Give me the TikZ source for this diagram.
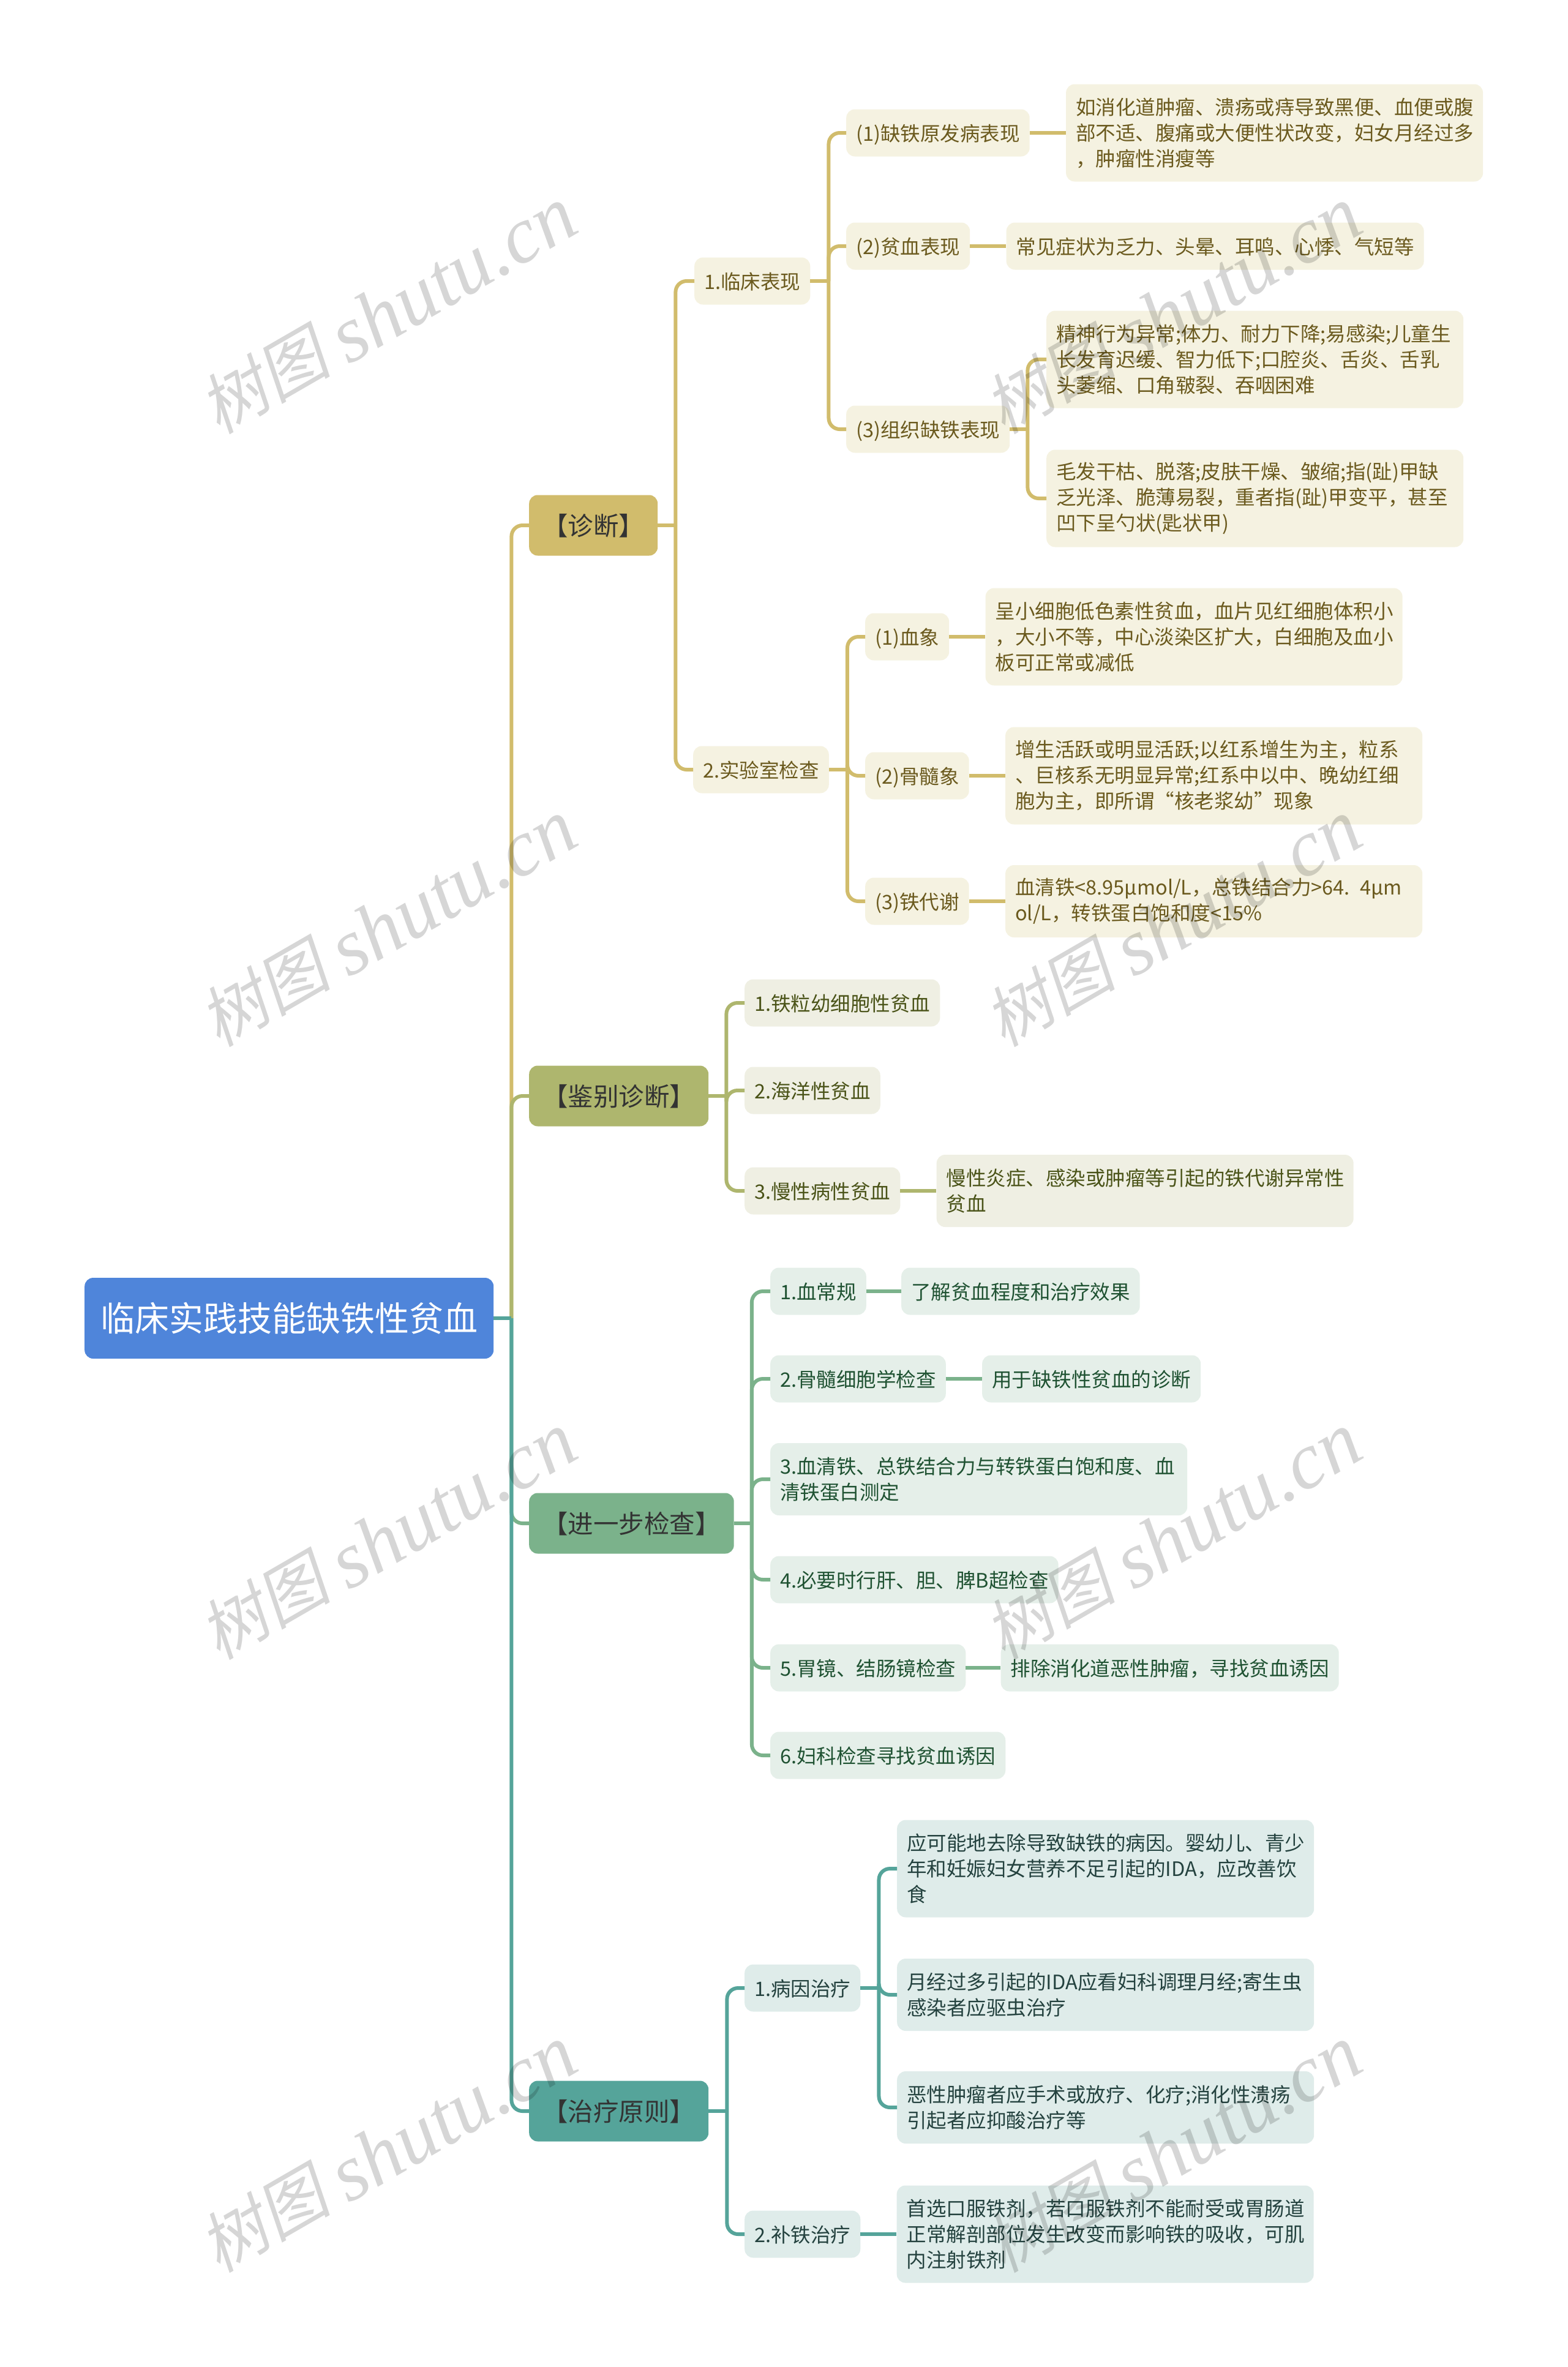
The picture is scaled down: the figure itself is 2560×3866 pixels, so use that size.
\documentclass[tikz,border=0pt]{standalone}
\usepackage{fontspec}
\setmainfont{Noto Sans CJK SC}
\newfontfamily\markcjk[FakeSlant=0.2]{Noto Sans CJK SC}
\newfontfamily\marklatin{Liberation Serif}
\usepackage{xcolor}
\usepackage{tikz}
\usetikzlibrary{positioning}

\definecolor{rootblue}{HTML}{4F85DA}
\definecolor{gold}{HTML}{D1BC6C}
\definecolor{goldfill}{HTML}{F5F2E1}
\definecolor{goldtext}{HTML}{6B5A1E}
\definecolor{olive}{HTML}{AEB66E}
\definecolor{olivefill}{HTML}{EFEFE3}
\definecolor{olivetext}{HTML}{4A5318}
\definecolor{leaf}{HTML}{7BB28B}
\definecolor{leaffill}{HTML}{E5EFE9}
\definecolor{leaftext}{HTML}{1F5232}
\definecolor{teal2}{HTML}{55A49A}
\definecolor{tealfill}{HTML}{DFECEA}
\definecolor{tealtext}{HTML}{24423F}

\begin{document}
\begin{tikzpicture}[
    x=1pt, y=-1pt,
    rootbox/.style={rectangle, fill=rootblue, text=white, rounded corners=14pt, minimum height=132pt, inner xsep=26pt, inner ysep=0pt, anchor=west, font=\fontsize{56}{64}\selectfont},
    topic/.style={rectangle, text=black!80, rounded corners=14pt, minimum height=99pt, inner xsep=22pt, inner ysep=0pt, anchor=west, text height=37pt, text depth=4pt, font=\fontsize{41.5}{50}\selectfont},
    item/.style={rectangle, rounded corners=14pt, minimum height=77pt, inner xsep=16pt, inner ysep=0pt, anchor=west, align=left, text height=30pt, text depth=3pt, font=\fontsize{32.5}{42}\selectfont},
    two/.style={minimum height=118pt, text width=649pt, text height=, text depth=},
    three/.style={minimum height=159pt, text width=649pt, text height=, text depth=},
    goldbox/.style={item, fill=goldfill, text=goldtext},
    olivebox/.style={item, fill=olivefill, text=olivetext},
    greenbox/.style={item, fill=leaffill, text=leaftext},
    tealbox/.style={item, fill=tealfill, text=tealtext},
    link/.style={line width=6pt},
    fillet/.style={link, rounded corners=18pt},
    watermark/.style={anchor=base, rotate=30, inner sep=0pt, text=black, text opacity=0.16}
]
\useasboundingbox (0,0) rectangle (2560,3866);

% Root and the four topics
\node[rootbox] (root) at (138,2153) {临床实践技能缺铁性贫血};
\node[topic, fill=gold] (diag) at (864,858) {【诊断】};
\node[topic, fill=olive] (diff) at (864,1790) {【鉴别诊断】};
\node[topic, fill=leaf] (exam) at (864,2488) {【进一步检查】};
\node[topic, fill=teal2] (cure) at (864,3448) {【治疗原则】};

% Diagnosis: clinical signs
\node[goldbox] (clin) at (1134,459) {1.临床表现};
\node[goldbox] (clinA) at (1382,217) {(1)缺铁原发病表现};
\node[goldbox] (clinB) at (1382,402) {(2)贫血表现};
\node[goldbox] (clinC) at (1382,701) {(3)组织缺铁表现};
\node[goldbox, three, right=59pt of clinA] (clinAtext) {如消化道肿瘤、溃疡或痔导致黑便、血便或腹\\部不适、腹痛或大便性状改变，妇女月经过多\\，肿瘤性消瘦等};
\node[goldbox, right=59pt of clinB] (clinBtext) {常见症状为乏力、头晕、耳鸣、心悸、气短等};
\node[goldbox, three] (clinCone) at (1709,587) {精神行为异常;体力、耐力下降;易感染;儿童生\\长发育迟缓、智力低下;口腔炎、舌炎、舌乳\\头萎缩、口角皲裂、吞咽困难};
\node[goldbox, three] (clinCtwo) at (1709,814) {毛发干枯、脱落;皮肤干燥、皱缩;指(趾)甲缺\\乏光泽、脆薄易裂，重者指(趾)甲变平，甚至\\凹下呈勺状(匙状甲)};

% Diagnosis: laboratory
\node[goldbox] (lab) at (1132,1257) {2.实验室检查};
\node[goldbox] (labA) at (1413,1040) {(1)血象};
\node[goldbox] (labB) at (1413,1267) {(2)骨髓象};
\node[goldbox] (labC) at (1413,1472) {(3)铁代谢};
\node[goldbox, three, right=59pt of labA] (labAtext) {呈小细胞低色素性贫血，血片见红细胞体积小\\，大小不等，中心淡染区扩大，白细胞及血小\\板可正常或减低};
\node[goldbox, three, right=59pt of labB] (labBtext) {增生活跃或明显活跃;以红系增生为主，粒系\\、巨核系无明显异常;红系中以中、晚幼红细\\胞为主，即所谓“核老浆幼”现象};
\node[goldbox, two, right=59pt of labC] (labCtext) {血清铁<8.95μmol/L，总铁结合力>64. 4μm\\ol/L，转铁蛋白饱和度<15\%};

% Differential diagnosis
\node[olivebox] (diffA) at (1216,1638) {1.铁粒幼细胞性贫血};
\node[olivebox] (diffB) at (1216,1781) {2.海洋性贫血};
\node[olivebox] (diffC) at (1216,1945) {3.慢性病性贫血};
\node[olivebox, two, right=59pt of diffC] (diffCtext) {慢性炎症、感染或肿瘤等引起的铁代谢异常性\\贫血};

% Further examination
\node[greenbox] (examA) at (1258,2109) {1.血常规};
\node[greenbox] (examB) at (1258,2252) {2.骨髓细胞学检查};
\node[greenbox, two] (examC) at (1258,2416) {3.血清铁、总铁结合力与转铁蛋白饱和度、血\\清铁蛋白测定};
\node[greenbox] (examD) at (1258,2580) {4.必要时行肝、胆、脾B超检查};
\node[greenbox] (examE) at (1258,2724) {5.胃镜、结肠镜检查};
\node[greenbox] (examF) at (1258,2867) {6.妇科检查寻找贫血诱因};
\node[greenbox, right=57pt of examA] (examAtext) {了解贫血程度和治疗效果};
\node[greenbox, right=59pt of examB] (examBtext) {用于缺铁性贫血的诊断};
\node[greenbox, right=57pt of examE] (examEtext) {排除消化道恶性肿瘤，寻找贫血诱因};

% Treatment
\node[tealbox] (cause) at (1216,3247) {1.病因治疗};
\node[tealbox] (iron) at (1216,3649) {2.补铁治疗};
\node[tealbox, three] (causeA) at (1465,3052) {应可能地去除导致缺铁的病因。婴幼儿、青少\\年和妊娠妇女营养不足引起的IDA，应改善饮\\食};
\node[tealbox, two] (causeB) at (1465,3258) {月经过多引起的IDA应看妇科调理月经;寄生虫\\感染者应驱虫治疗};
\node[tealbox, two] (causeC) at (1465,3442) {恶性肿瘤者应手术或放疗、化疗;消化性溃疡\\引起者应抑酸治疗等};
\node[tealbox, three, right=59pt of iron] (irontext) {首选口服铁剂，若口服铁剂不能耐受或胃肠道\\正常解剖部位发生改变而影响铁的吸收，可肌\\内注射铁剂};

% Links - gold
\coordinate (hub) at ([xshift=29pt]root.east);
\draw[fillet, gold] (hub) |- (diag.west);
\draw[link, gold] (diag.east) -- ++(29,0) coordinate (diagHub);
\foreach \kid in {clin,lab} \draw[fillet, gold] (diagHub) |- (\kid.west);
\draw[link, gold] (clin.east) -- ++(30,0) coordinate (clinHub);
\foreach \kid in {clinA,clinB,clinC} \draw[fillet, gold] (clinHub) |- (\kid.west);
\draw[link, gold] (clinA) -- (clinAtext);
\draw[link, gold] (clinB) -- (clinBtext);
\draw[link, gold] (clinC.east) -- ++(29,0) coordinate (clinCHub);
\foreach \kid in {clinCone,clinCtwo} \draw[fillet, gold] (clinCHub) |- (\kid.west);
\draw[link, gold] (lab.east) -- ++(30,0) coordinate (labHub);
\foreach \kid in {labA,labB,labC} \draw[fillet, gold] (labHub) |- (\kid.west);
\draw[link, gold] (labA) -- (labAtext);
\draw[link, gold] (labB) -- (labBtext);
\draw[link, gold] (labC) -- (labCtext);

% Links - olive
\draw[fillet, olive] (hub) |- (diff.west);
\draw[link, olive] (diff.east) -- ++(29,0) coordinate (diffHub);
\foreach \kid in {diffA,diffB,diffC} \draw[fillet, olive] (diffHub) |- (\kid.west);
\draw[link, olive] (diffC) -- (diffCtext);

% Links - green
\draw[fillet, leaf] (hub) |- (exam.west);
\draw[link, leaf] (exam.east) -- ++(29,0) coordinate (examHub);
\foreach \kid in {examA,examB,examC,examD,examE,examF} \draw[fillet, leaf] (examHub) |- (\kid.west);
\draw[link, leaf] (examA) -- (examAtext);
\draw[link, leaf] (examB) -- (examBtext);
\draw[link, leaf] (examE) -- (examEtext);

% Links - teal
\draw[fillet, teal2] (hub) |- (cure.west);
\draw[link, teal2] (root.east) -- (hub);
\draw[link, teal2] (cure.east) -- ++(30,0) coordinate (cureHub);
\foreach \kid in {cause,iron} \draw[fillet, teal2] (cureHub) |- (\kid.west);
\draw[link, teal2] (cause.east) -- ++(30,0) coordinate (causeHub);
\foreach \kid in {causeA,causeB,causeC} \draw[fillet, teal2] (causeHub) |- (\kid.west);
\draw[link, teal2] (iron) -- (irontext);

% Watermarks
\foreach \mx/\my [count=\i] in {656/547,656/1548,656/2549,656/3550,1938/547,1938/1548,1938/2549,1938/3550}
    \node[watermark] (mark\i) at (\mx,\my) {\raisebox{8pt}{\markcjk\fontsize{108}{108}\selectfont 树图}\hspace{25pt}{\marklatin\itshape\fontsize{131}{131}\selectfont shutu.cn}};

\end{tikzpicture}
\end{document}
